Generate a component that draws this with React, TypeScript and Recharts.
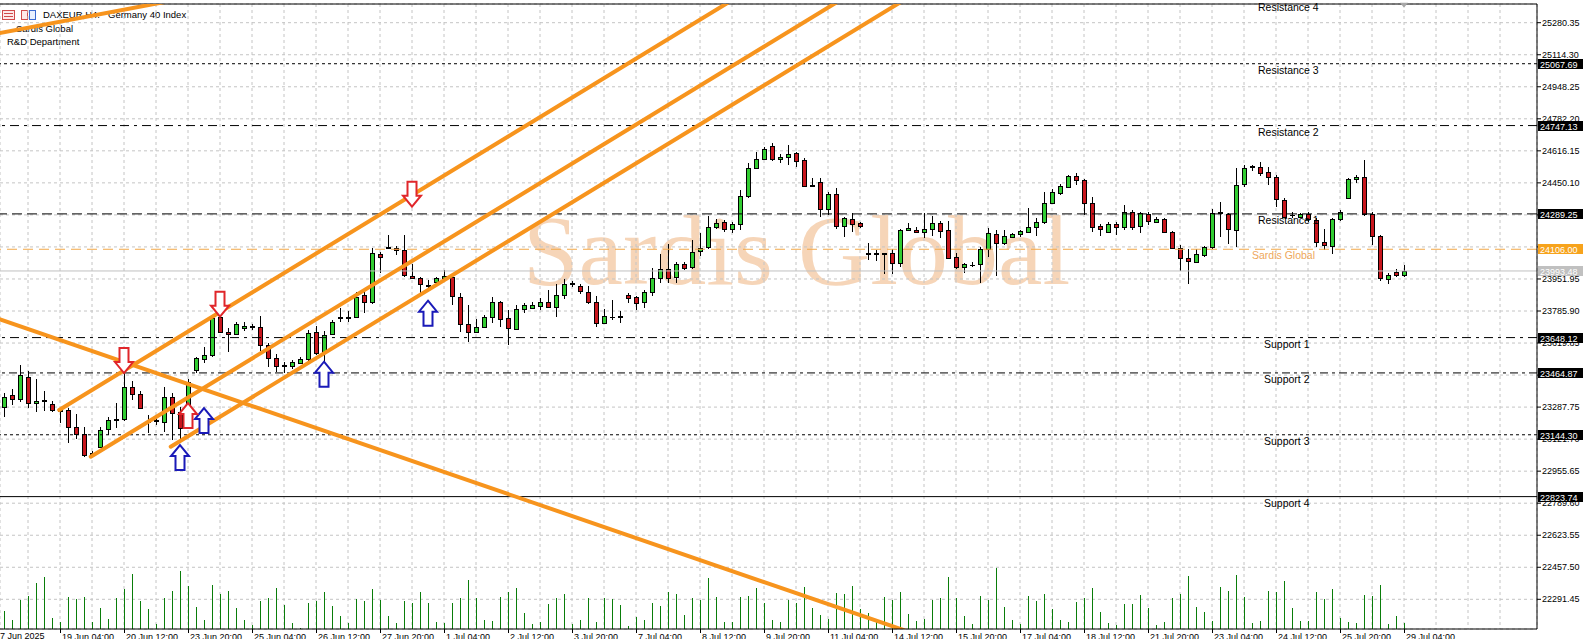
import {
  ComposedChart,
  Bar,
  Line,
  XAxis,
  YAxis,
  CartesianGrid,
  ReferenceLine,
  ReferenceDot,
} from "recharts";

// DAX H4 bars (index 0 = 18 Jun 00:00)
const barOpen = [
  23290, 23350, 23328, 23445, 23307, 23324, 23304, 23272, 23272, 23186,
  23146, 23044, 23082, 23172, 23221, 23226, 23390, 23354, 23217, 23214,
  23209, 23342, 23260, 23195, 23480, 23535, 23558, 23756, 23679, 23666,
  23696, 23703, 23701, 23609, 23540, 23506, 23502, 23514, 23537, 23679,
  23575, 23666, 23751, 23750, 23753, 23869, 23831, 24080, 24112, 24111,
  24102, 23969, 23955, 23919, 23934, 23958, 23960, 23860, 23718, 23679,
  23705, 23753, 23831, 23748, 23692, 23794, 23803, 23813, 23831, 23808,
  23869, 23926, 23915, 23886, 23834, 23722, 23753, 23755, 23869, 23857,
  23831, 23883, 23955, 24002, 23960, 24028, 24012, 24097, 24116, 24223,
  24245, 24209, 24235, 24384, 24525, 24572, 24641, 24572, 24582, 24603,
  24569, 24437, 24453, 24313, 24391, 24228, 24261, 24240, 24086, 24083,
  24085, 24085, 24033, 24204, 24206, 24194, 24209, 24240, 24206, 24064,
  24012, 24023, 24028, 24107, 24183, 24137, 24171, 24183, 24197, 24220,
  24245, 24344, 24396, 24430, 24486, 24465, 24344, 24226, 24194, 24237,
  24223, 24301, 24226, 24289, 24245, 24263, 24194, 24114, 24059, 24042,
  24076, 24116, 24294, 24289, 24206, 24444, 24532, 24531, 24505, 24479,
  24361, 24282, 24271, 24287, 24258, 24142, 24125, 24261, 24370, 24468,
  24479, 24287, 24176, 23952, 23988, 23975,
];
const barHigh = [
  23359, 23380, 23506, 23476, 23432, 23373, 23321, 23280, 23281, 23250,
  23186, 23062, 23186, 23235, 23307, 23463, 23423, 23371, 23247, 23235,
  23390, 23359, 23290, 23433, 23549, 23601, 23765, 23822, 23696, 23730,
  23727, 23718, 23760, 23618, 23563, 23523, 23532, 23549, 23687, 23710,
  23684, 23739, 23800, 23786, 23886, 23886, 24111, 24093, 24180, 24123,
  24180, 24029, 23964, 23946, 23964, 23998, 23981, 23877, 23817, 23743,
  23765, 23860, 23839, 23791, 23817, 23825, 23831, 23851, 23895, 23924,
  23950, 23943, 23926, 23915, 23865, 23794, 23843, 23787, 23877, 23865,
  23895, 24007, 24081, 24131, 24041, 24038, 24154, 24188, 24278, 24261,
  24257, 24249, 24413, 24555, 24612, 24638, 24655, 24600, 24646, 24612,
  24577, 24473, 24473, 24404, 24422, 24271, 24296, 24249, 24137, 24102,
  24088, 24105, 24209, 24240, 24223, 24292, 24278, 24252, 24252, 24085,
  24036, 24038, 24119, 24214, 24206, 24206, 24192, 24206, 24318, 24266,
  24404, 24417, 24442, 24491, 24499, 24468, 24375, 24237, 24249, 24249,
  24335, 24309, 24301, 24297, 24275, 24270, 24201, 24128, 24107, 24107,
  24125, 24313, 24353, 24295, 24525, 24543, 24543, 24560, 24534, 24491,
  24370, 24301, 24296, 24301, 24266, 24209, 24266, 24309, 24474, 24491,
  24569, 24301, 24180, 23985, 24002, 24024,
];
const barLow = [
  23238, 23298, 23316, 23281, 23260, 23267, 23264, 23207, 23103, 23120,
  23027, 23027, 23074, 23143, 23177, 23217, 23324, 23276, 23152, 23195,
  23160, 23117, 23100, 23183, 23463, 23514, 23549, 23670, 23575, 23661,
  23684, 23687, 23580, 23497, 23471, 23463, 23485, 23511, 23528, 23558,
  23523, 23661, 23730, 23730, 23748, 23777, 23822, 23984, 24108, 24076,
  23964, 23950, 23877, 23903, 23929, 23952, 23817, 23679, 23627, 23670,
  23696, 23722, 23705, 23609, 23687, 23777, 23800, 23791, 23805, 23756,
  23846, 23912, 23872, 23822, 23701, 23717, 23739, 23725, 23826, 23791,
  23800, 23865, 23929, 23933, 23933, 23998, 24002, 24071, 24107, 24209,
  24197, 24192, 24206, 24373, 24520, 24569, 24565, 24555, 24543, 24534,
  24430, 24430, 24271, 24283, 24211, 24168, 24197, 24218, 24050, 24047,
  23978, 23976, 24012, 24202, 24188, 24165, 24175, 24163, 24054, 24004,
  23981, 24012, 23933, 24067, 23967, 24128, 24163, 24171, 24188, 24175,
  24237, 24339, 24387, 24422, 24439, 24283, 24197, 24175, 24188, 24180,
  24206, 24206, 24188, 24232, 24240, 24188, 24111, 23995, 23924, 24036,
  24067, 24105, 24168, 24133, 24119, 24427, 24512, 24486, 24439, 24323,
  24266, 24266, 24266, 24249, 24116, 24102, 24081, 24252, 24365, 24448,
  24278, 24128, 23941, 23926, 23964, 23964,
];
const barClose = [
  23342, 23328, 23454, 23307, 23321, 23319, 23273, 23266, 23186, 23148,
  23039, 23051, 23169, 23221, 23226, 23390, 23354, 23285, 23212, 23221,
  23342, 23255, 23177, 23419, 23540, 23558, 23748, 23679, 23665, 23718,
  23710, 23706, 23609, 23544, 23501, 23501, 23520, 23537, 23673, 23566,
  23661, 23730, 23753, 23753, 23860, 23831, 24085, 24064, 24116, 24102,
  23972, 23955, 23926, 23917, 23958, 23969, 23864, 23718, 23679, 23701,
  23753, 23834, 23743, 23696, 23794, 23817, 23817, 23831, 23808, 23869,
  23926, 23929, 23891, 23834, 23722, 23760, 23756, 23758, 23855, 23829,
  23883, 23955, 24002, 23959, 24028, 24010, 24093, 24114, 24223, 24240,
  24209, 24235, 24384, 24525, 24572, 24624, 24572, 24582, 24598, 24563,
  24435, 24434, 24313, 24391, 24228, 24266, 24235, 24226, 24083, 24086,
  24083, 24033, 24206, 24214, 24194, 24211, 24244, 24201, 24062, 24016,
  24029, 24026, 24107, 24188, 24137, 24176, 24183, 24201, 24220, 24247,
  24344, 24404, 24434, 24486, 24465, 24344, 24223, 24209, 24237, 24220,
  24301, 24223, 24292, 24252, 24263, 24194, 24114, 24059, 24045, 24080,
  24116, 24292, 24297, 24209, 24439, 24525, 24536, 24499, 24479, 24365,
  24275, 24285, 24287, 24261, 24142, 24128, 24261, 24301, 24468, 24479,
  24287, 24176, 23955, 23972, 23974, 23993.48,
];
const barVolume = [
  56, 29, 91, 103, 143, 161, 34, 23, 98, 92,
  99, 21, 64, 31, 95, 125, 172, 88, 61, 16,
  95, 119, 181, 134, 68, 29, 136, 109, 118, 64,
  29, 11, 86, 96, 126, 74, 18, 4, 81, 88,
  115, 71, 39, 18, 94, 88, 125, 91, 40, 19,
  88, 80, 115, 81, 21, 19, 81, 95, 151, 95,
  29, 24, 100, 115, 128, 51, 16, 22, 79, 95,
  109, 16, 28, 96, 22, 96, 93, 76, 10, 38,
  28, 81, 71, 116, 109, 43, 96, 91, 158, 98,
  21, 23, 98, 103, 126, 81, 28, 21, 89, 81,
  130, 66, 43, 31, 113, 109, 133, 61, 49, 23,
  100, 89, 115, 46, 26, 31, 91, 95, 160, 95,
  41, 16, 103, 91, 188, 68, 28, 16, 103, 88,
  109, 61, 28, 23, 85, 96, 128, 53, 18, 11,
  78, 78, 106, 66, 13, 21, 96, 110, 166, 68,
  52, 26, 129, 119, 169, 100, 20, 26, 118, 116,
  148, 64, 26, 26, 116, 92, 125, 34, 23, 18,
  106, 103, 136, 16, 40, 20,
];

const xLabelBars = [
  7, 15, 23, 31, 39, 47, 55, 63, 71, 79, 87, 95, 103, 111, 119, 127, 135,
  143, 151, 159, 167, 175,
];
const xLabelTexts = [
  "19 Jun 04:00", "20 Jun 12:00", "23 Jun 20:00", "25 Jun 04:00",
  "26 Jun 12:00", "27 Jun 20:00", "1 Jul 04:00", "2 Jul 12:00",
  "3 Jul 20:00", "7 Jul 04:00", "8 Jul 12:00", "9 Jul 20:00",
  "11 Jul 04:00", "14 Jul 12:00", "15 Jul 20:00", "17 Jul 04:00",
  "18 Jul 12:00", "21 Jul 20:00", "23 Jul 04:00", "24 Jul 12:00",
  "25 Jul 20:00", "29 Jul 04:00",
];
const gridBars = [
  3, 7, 11, 15, 19, 23, 27, 31, 35, 39, 43, 47, 51, 55, 59, 63, 67, 71, 75,
  79, 83, 87, 91, 95, 99, 103, 107, 111, 115, 119, 123, 127, 131, 135, 139,
  143, 147, 151, 155, 159, 163, 167, 171, 175, 179, 183, 187,
];
const yTickValues = [
  25280.35, 25114.3, 24948.25, 24782.2, 24616.15, 24450.1, 24284.05, 24118.0,
  23951.95, 23785.9, 23619.85, 23453.8, 23287.75, 23121.7, 22955.65, 22789.6,
  22623.55, 22457.5, 22291.45,
];

// horizontal levels drawn on the chart
const levelNames = [
  "Resistance 4", "Resistance 3", "Resistance 2", "Resistance 1",
  "Sardis Global", "Bid", "Support 1", "Support 2", "Support 3", "Support 4",
];
const levelPrices = [
  25392.8, 25067.69, 24747.13, 24289.25, 24106.0, 23993.48, 23648.12,
  23464.87, 23144.3, 22823.74,
];

// trend lines: (bar index, price) pairs
const channelTop = [{ x: 6.9, y: 23272.6 }, { x: 100, y: 25624.3 }];
const channelMid = [{ x: 10.84, y: 23030.5 }, { x: 110, y: 25535.3 }];
const channelLow = [{ x: 20.84, y: 23082.3 }, { x: 120, y: 25587.1 }];
const fallingLine = [{ x: -10, y: 23878.3 }, { x: 160, y: 21454.1 }];
const cornerLine = [{ x: -10, y: 25152.8 }, { x: 40, y: 25543 }];

// arrow signals: bar, tip price, kind
const arrowBars = [51, 27, 15, 53, 40, 25, 22, 23];
const arrowPrices = [24326.5, 23756.3, 23464.4, 23839.2, 23523.0, 23283.0, 23091.1, 23308.9];
const arrowKinds = ["sell", "sell", "sell", "buy", "buy", "buy", "buy", "exit"];

const X_MIN = -0.5;
const X_MAX = 191.625;
const Y_MIN = 22137.5;
const Y_MAX = 25377.3;
const ORANGE = "#f7941d";
const FONT = '"Liberation Sans", Arial, sans-serif';

const candles = barOpen.map((o, i) => ({
  x: i,
  o,
  h: barHigh[i],
  l: barLow[i],
  c: barClose[i],
  v: barVolume[i],
}));

const tagPrices = levelPrices.filter((_, i) => levelNames[i] !== "Resistance 4");

const levelStyle: Record<string, any> = {
  "Resistance 4": { stroke: "none", textBar: 156.75 },
  "Resistance 3": { dash: "3 3", textBar: 156.75, tag: "#000" },
  "Resistance 2": { dash: "9 5 3 5", textBar: 156.75, tag: "#000" },
  "Resistance 1": { dash: "10 5", textBar: 156.75, tag: "#000" },
  "Sardis Global": { dash: "10 6", stroke: "#f2a848", textBar: 156, textColor: "#eea75c", tag: "#f7a31c" },
  Bid: { stroke: "#c0c0c0", tag: "#c0c0c0", noText: true },
  "Support 1": { dash: "9 5 3 5", textBar: 157.5, tag: "#000" },
  "Support 2": { dash: "8 4 3 4", textBar: 157.5, tag: "#000" },
  "Support 3": { dash: "3 3", textBar: 157.5, tag: "#000" },
  "Support 4": { textBar: 157.5, tag: "#000" },
};

function Candle(props: any) {
  const { x, y, width, height, payload } = props;
  const { o, h, l, c } = payload;
  const cx = Math.round(x + width / 2);
  const k = h === l ? 0 : height / (h - l);
  const yO = y + (h - o) * k;
  const yC = y + (h - c) * k;
  const top = Math.round(Math.min(yO, yC));
  const bot = Math.round(Math.max(yO, yC));
  const up = c >= o;
  return (
    <g shapeRendering="crispEdges">
      <line x1={cx + 0.5} x2={cx + 0.5} y1={Math.round(y)} y2={Math.round(y + height)} stroke="#000" />
      {bot - top < 1 ? (
        <line x1={cx - 2} x2={cx + 3} y1={top + 0.5} y2={top + 0.5} stroke="#000" />
      ) : (
        <rect x={cx - 1.5} y={top + 0.5} width={4} height={bot - top} fill={up ? "#32cd32" : "#c8161d"} stroke="#000" />
      )}
    </g>
  );
}

function VolumeBar(props: any) {
  const { x, y, width, height } = props;
  if (!height) return <g />;
  return (
    <rect x={Math.round(x + width / 2)} y={y} width={1} height={height} fill="#0a7d0a" shapeRendering="crispEdges" />
  );
}

function XTick(props: any) {
  const { x, y, payload } = props;
  const k = xLabelBars.indexOf(payload.value);
  if (k < 0) return <g />;
  return (
    <g>
      <line x1={x + 0.5} x2={x + 0.5} y1={y} y2={y + 4} stroke="#000" />
      <text x={x + 2} y={y + 10.5} fontSize={9} fill="#000" fontFamily={FONT}>
        {xLabelTexts[k]}
      </text>
    </g>
  );
}

// price tags on the right scale, drawn by a mirrored axis so they sit above the tick labels
function TagTick(props: any) {
  const { x, y, payload } = props;
  const k = levelPrices.indexOf(payload.value);
  const st = k >= 0 ? levelStyle[levelNames[k]] : null;
  if (!st || !st.tag) return <g />;
  const ty = Math.round(y);
  return (
    <g fontFamily={FONT}>
      <rect x={x + 1} y={ty - 5} width={45} height={10} fill={st.tag} shapeRendering="crispEdges" />
      <text x={x + 3} y={ty + 3.5} fontSize={9} fill="#fff">
        {payload.value.toFixed(2)}
      </text>
    </g>
  );
}

function arrowShape(kind: string) {
  const color = kind === "buy" ? "#1a1ab8" : "#e0262a";
  const down = kind === "sell";
  return (p: any) => {
    const { cx, cy } = p;
    const s = down ? -1 : 1;
    const pts = [
      [0, 0],
      [9, 11],
      [4.5, 11],
      [4.5, 25],
      [-4.5, 25],
      [-4.5, 11],
      [-9, 11],
    ]
      .map(([dx, dy]) => `${cx + dx},${cy + s * dy}`)
      .join(" ");
    return <polygon points={pts} fill="#fff" stroke={color} strokeWidth={2} strokeLinejoin="miter" />;
  };
}

function levelLabel(name: string) {
  const st = levelStyle[name];
  return (props: any) => {
    const vb = props.viewBox || props;
    const { x, y, width } = vb;
    if (st.noText) return <g />;
    const tx = x + ((st.textBar - X_MIN) / (X_MAX - X_MIN)) * width;
    return (
      <text x={tx} y={y + 10} fontSize={10.5} fill={st.textColor || "#000"} fontFamily={FONT}>
        {name}
      </text>
    );
  };
}

function ShiftMark(p: any) {
  const { cx, cy } = p;
  return <polygon points={`${cx - 4},${cy - 3} ${cx + 4},${cy - 3} ${cx},${cy + 2}`} fill="#a8a8a8" />;
}

export default function App() {
  return (
    <div
      style={{
        position: "fixed",
        left: 0,
        top: 0,
        width: 1592,
        height: 639,
        background: "#fff",
        overflow: "hidden",
        fontFamily: FONT,
      }}
    >
      <div
        style={{
          position: "absolute",
          left: 523,
          top: 201,
          fontFamily: '"Liberation Serif", serif',
          fontSize: 100,
          lineHeight: "100px",
          color: "#f6d5b8",
          whiteSpace: "nowrap",
        }}
      >
        Sardis Global
      </div>
      <div style={{ position: "absolute", left: 2, top: 10, display: "flex", gap: 6 }}>
        <svg width={13} height={10}>
          <rect x={0.5} y={0.5} width={12} height={9} fill="#fde8e8" stroke="#d04a4a" />
          <line x1={2} x2={11} y1={3.5} y2={3.5} stroke="#d04a4a" />
          <line x1={2} x2={11} y1={6.5} y2={6.5} stroke="#d04a4a" />
        </svg>
        <svg width={15} height={10}>
          <rect x={0.5} y={0.5} width={6} height={9} fill="#fde8e8" stroke="#d04a4a" />
          <rect x={8.5} y={0.5} width={6} height={9} fill="#e8f0ff" stroke="#3a6ad0" />
        </svg>
      </div>
      <div style={{ position: "absolute", left: 43, top: 9, fontSize: 9.5, lineHeight: "11px", whiteSpace: "nowrap" }}>
        DAXEUR,H4:
      </div>
      <div style={{ position: "absolute", left: 108, top: 9, fontSize: 9.5, lineHeight: "11px", whiteSpace: "nowrap" }}>
        Germany 40 Index
      </div>
      <div style={{ position: "absolute", left: 16, top: 23, fontSize: 9.5, lineHeight: "11px" }}>Sardis Global</div>
      <div style={{ position: "absolute", left: 7, top: 36, fontSize: 9.5, lineHeight: "11px" }}>R&amp;D Department</div>
      <div style={{ position: "absolute", left: -5, top: 631, fontSize: 9, lineHeight: "11px", whiteSpace: "nowrap" }}>
        17 Jun 2025
      </div>

      <div style={{ position: "absolute", left: 0, top: 0 }}>
        <ComposedChart
          width={1592}
          height={639}
          data={candles}
          margin={{ top: 4, right: 0, bottom: 0, left: 0 }}
          style={{ fontFamily: FONT }}
        >
          <CartesianGrid stroke="#c4c4c4" strokeDasharray="3 3" />
          <XAxis
            dataKey="x"
            type="number"
            domain={[X_MIN, X_MAX]}
            allowDataOverflow
            ticks={gridBars}
            interval={0}
            height={10}
            tickSize={0}
            tickMargin={0}
            tick={<XTick />}
            axisLine={{ stroke: "#000" }}
          />
          <XAxis xAxisId="v" dataKey="x" type="number" domain={[X_MIN, X_MAX]} allowDataOverflow ticks={gridBars} hide />
          <YAxis
            orientation="right"
            width={55}
            type="number"
            domain={[Y_MIN, Y_MAX]}
            allowDataOverflow
            ticks={yTickValues}
            interval={0}
            tickSize={4}
            tickMargin={1}
            tickFormatter={(v: number) => v.toFixed(2)}
            tick={{ fill: "#000", fontSize: 9 }}
            axisLine={{ stroke: "#000" }}
            tickLine={{ stroke: "#000" }}
          />
          <YAxis
            yAxisId="tags"
            orientation="right"
            mirror
            width={1}
            type="number"
            domain={[Y_MIN, Y_MAX]}
            allowDataOverflow
            ticks={tagPrices}
            interval={0}
            tickSize={0}
            tickMargin={0}
            axisLine={false}
            tickLine={false}
            tick={<TagTick />}
          />
          <YAxis yAxisId="v" domain={[0, 1940]} hide />

          <ReferenceLine y={Y_MAX} stroke="#000" />
          {levelNames.map((name, i) => {
            const st = levelStyle[name];
            return (
              <ReferenceLine
                key={name}
                y={levelPrices[i]}
                stroke={st.stroke || "#000"}
                strokeDasharray={st.dash}
                ifOverflow={name === "Resistance 4" ? "visible" : "discard"}
                label={levelLabel(name)}
              />
            );
          })}

          <Bar
            xAxisId="v"
            yAxisId="v"
            dataKey="v"
            barSize={1}
            shape={<VolumeBar />}
            isAnimationActive={false}
          />
          <Bar
            dataKey={(d: any) => [d.l, d.h]}
            barSize={5}
            shape={<Candle />}
            isAnimationActive={false}
          />

          {[channelTop, channelMid, channelLow, fallingLine, cornerLine].map((pts, i) => (
            <Line
              key={i}
              data={pts}
              dataKey="y"
              type="linear"
              stroke={ORANGE}
              strokeWidth={4}
              strokeLinecap="round"
              dot={false}
              activeDot={false}
              isAnimationActive={false}
            />
          ))}

          {arrowBars.map((b, i) => (
            <ReferenceDot
              key={i}
              x={b}
              y={arrowPrices[i]}
              r={0}
              ifOverflow="visible"
              shape={arrowShape(arrowKinds[i])}
            />
          ))}
          <ReferenceDot x={175} y={25368} r={0} ifOverflow="visible" shape={ShiftMark} />
        </ComposedChart>
      </div>
    </div>
  );
}
